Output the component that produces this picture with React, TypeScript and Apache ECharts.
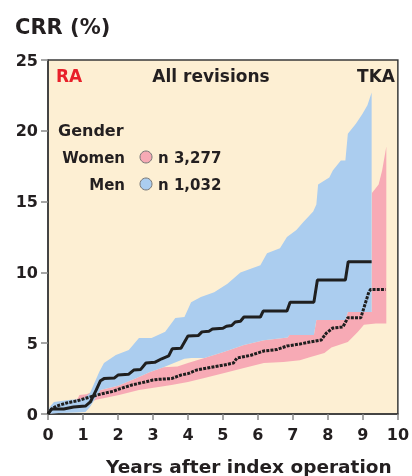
import React, { useEffect, useRef } from "react";
import * as echarts from "echarts";

// Kaplan-Meier style cumulative revision rate (%) vs years
const menLine: [number, number][] = [
  [0, 0], [0.1, 0.35], [0.45, 0.35], [0.73, 0.5], [1.07, 0.56], [1.21, 0.85], [1.38, 1.7], [1.5, 2.35],
  [1.6, 2.5], [1.9, 2.55], [2.0, 2.75], [2.3, 2.8], [2.45, 3.1], [2.65, 3.15], [2.8, 3.6], [3.05, 3.65],
  [3.25, 3.9], [3.45, 4.1], [3.55, 4.6], [3.8, 4.65], [4.0, 5.5], [4.3, 5.55], [4.4, 5.8], [4.6, 5.85],
  [4.7, 6.0], [5.0, 6.05], [5.1, 6.2], [5.25, 6.25], [5.35, 6.5], [5.5, 6.55], [5.6, 6.85], [6.07, 6.85],
  [6.15, 7.27], [6.83, 7.27], [6.92, 7.9], [7.6, 7.9], [7.7, 9.46], [8.5, 9.46], [8.58, 10.75], [9.25, 10.75],
];

const womenLine: [number, number][] = [
  [0, 0], [0.1, 0.35], [0.25, 0.56], [0.53, 0.78], [0.82, 0.92], [1.1, 1.13], [1.3, 1.27], [1.58, 1.45],
  [1.86, 1.6], [2.03, 1.76], [2.14, 1.85], [2.4, 2.05], [2.79, 2.27], [3.0, 2.4], [3.16, 2.45], [3.53, 2.5],
  [3.8, 2.75], [4.0, 2.85], [4.24, 3.1], [4.66, 3.3], [5.04, 3.46], [5.3, 3.6], [5.4, 3.95], [5.8, 4.15],
  [6.17, 4.45], [6.54, 4.55], [6.83, 4.8], [7.2, 4.94], [7.48, 5.08], [7.81, 5.22], [7.95, 5.7], [8.14, 6.07],
  [8.43, 6.15], [8.57, 6.8], [8.94, 6.8], [9.17, 8.6], [9.22, 8.8], [9.65, 8.8],
];

const menUpper: [number, number][] = [
  [0, 0], [0.05, 0.5], [0.17, 0.85], [0.65, 1.0], [1.0, 1.06], [1.2, 1.48], [1.47, 3.0], [1.6, 3.6],
  [1.94, 4.17], [2.31, 4.52], [2.6, 5.37], [2.96, 5.37], [3.35, 5.8], [3.64, 6.78], [3.9, 6.85], [4.09, 7.9],
  [4.37, 8.26], [4.75, 8.6], [5.13, 9.2], [5.5, 10.0], [6.07, 10.5], [6.26, 11.35], [6.63, 11.7], [6.83, 12.5],
  [7.1, 13.0], [7.3, 13.56], [7.58, 14.3], [7.67, 14.8], [7.72, 16.2], [8.04, 16.7], [8.14, 17.2], [8.37, 17.9],
  [8.5, 17.9], [8.57, 19.8], [8.8, 20.5], [8.99, 21.2], [9.13, 21.8], [9.25, 22.7],
];

const menLower: [number, number][] = [
  [0, 0], [0.3, 0.07], [0.82, 0.1], [1.07, 0.15], [1.2, 0.5], [1.35, 1.1], [1.5, 1.7], [2.0, 2.0],
  [2.5, 2.5], [2.9, 2.95], [3.3, 3.3], [3.6, 3.6], [3.9, 3.9], [4.1, 3.95], [4.47, 3.95], [5.04, 4.4],
  [5.6, 4.87], [6.17, 5.2], [6.85, 5.4], [6.9, 5.58], [7.6, 5.58], [7.67, 6.64], [8.5, 6.64], [8.57, 7.2],
  [9.25, 7.2],
];

const womenUpper: [number, number][] = [
  [0, 0], [0.1, 0.6], [0.5, 0.75], [0.85, 1.1], [0.9, 1.35], [1.1, 1.4], [1.2, 1.5], [1.5, 1.7],
  [2.0, 2.0], [2.5, 2.5], [2.9, 2.95], [3.3, 3.3], [3.7, 3.35], [4.0, 3.6], [4.47, 3.95], [5.04, 4.4],
  [5.6, 4.87], [6.17, 5.2], [6.85, 5.4], [6.9, 5.58], [7.6, 5.58], [7.67, 6.64], [8.5, 6.64], [8.57, 7.2],
  [9.25, 7.2], [9.26, 15.6], [9.45, 16.2], [9.55, 17.2], [9.67, 18.9],
];

const womenLower: [number, number][] = [
  [0, 0], [0.5, 0.3], [1.0, 0.6], [1.38, 1.0], [2.03, 1.34], [2.6, 1.7], [3.16, 1.9], [3.53, 2.05],
  [4.0, 2.26], [4.47, 2.54], [5.04, 2.9], [5.6, 3.24], [6.17, 3.6], [6.73, 3.67], [7.2, 3.8], [7.48, 4.0],
  [7.9, 4.3], [8.1, 4.7], [8.57, 5.08], [8.86, 5.8], [9.03, 6.3], [9.37, 6.4], [9.67, 6.4],
];

const FONT = "DejaVu Sans";
const TXT = "#231f20";
const PINK = "#f7aab5";
const BLUE = "#abcdef";

function band(upper: [number, number][], lower: [number, number][], color: string, z: number) {
  return {
    type: "custom",
    coordinateSystem: "cartesian2d",
    z,
    silent: true,
    clip: true,
    data: [[0, 0]],
    renderItem: (_params: any, api: any) => {
      const pts = upper
        .map((p) => api.coord(p))
        .concat(lower.slice().reverse().map((p) => api.coord(p)));
      return { type: "polygon", shape: { points: pts }, style: { fill: color } };
    },
  };
}

export default function App() {
  const ref = useRef<HTMLDivElement>(null);
  useEffect(() => {
    if (!ref.current) return;
    const chart = echarts.init(ref.current, undefined, { renderer: "svg" });
    const bold = { fontFamily: FONT, fontWeight: "bold" as const, color: TXT };
    chart.setOption({
      animation: false,
      grid: {
        left: 48, right: 9, top: 60, bottom: 62, show: true,
        backgroundColor: "#fdefd3", borderColor: "#3a3a3a", borderWidth: 1.5,
      },
      xAxis: {
        type: "value", min: 0, max: 10, interval: 1,
        axisLine: { show: true, lineStyle: { color: "#3a3a3a", width: 1.5 } },
        axisTick: { show: true, length: 6, lineStyle: { color: "#888", width: 1.5 } },
        axisLabel: { ...bold, fontSize: 16, margin: 12 },
        splitLine: { show: false },
      },
      yAxis: {
        type: "value", min: 0, max: 25, interval: 5,
        axisLine: { show: true, lineStyle: { color: "#3a3a3a", width: 1.5 } },
        axisTick: { show: true, length: 7, lineStyle: { color: "#888", width: 1.5 } },
        axisLabel: { ...bold, fontSize: 16, margin: 10 },
        splitLine: { show: false },
      },
      series: [
        band(womenUpper, womenLower, PINK, 1),
        band(menUpper, menLower, BLUE, 2),
        {
          type: "line", data: womenLine, symbol: "none", z: 4, silent: true,
          lineStyle: { color: "#1f1f1f", width: 3, type: [3, 1.2] },
        },
        {
          type: "line", data: menLine, symbol: "none", z: 5, silent: true,
          lineStyle: { color: "#1f1f1f", width: 3 },
        },
      ],
      graphic: [
        { type: "text", left: 15, top: 16, style: { text: "CRR (%)", font: `bold 21px "${FONT}"`, fill: TXT } },
        { type: "text", x: 56, y: 76, style: { text: "RA", font: `bold 17px "${FONT}"`, fill: "#e8202a", textVerticalAlign: "middle" } },
        { type: "text", x: 211, y: 76, style: { text: "All revisions", font: `bold 17px "${FONT}"`, fill: TXT, textAlign: "center", textVerticalAlign: "middle" } },
        { type: "text", x: 395, y: 76, style: { text: "TKA", font: `bold 17px "${FONT}"`, fill: TXT, textAlign: "right", textVerticalAlign: "middle" } },
        { type: "text", x: 58, y: 130, style: { text: "Gender", font: `bold 16px "${FONT}"`, fill: TXT, textVerticalAlign: "middle" } },
        { type: "text", x: 125, y: 158, style: { text: "Women", font: `bold 15px "${FONT}"`, fill: TXT, textAlign: "right", textVerticalAlign: "middle" } },
        { type: "circle", shape: { cx: 146, cy: 157, r: 6 }, style: { fill: PINK, stroke: "#777", lineWidth: 1 } },
        { type: "text", x: 158, y: 158, style: { text: "n 3,277", font: `bold 15px "${FONT}"`, fill: TXT, textVerticalAlign: "middle" } },
        { type: "text", x: 125, y: 185, style: { text: "Men", font: `bold 15px "${FONT}"`, fill: TXT, textAlign: "right", textVerticalAlign: "middle" } },
        { type: "circle", shape: { cx: 146, cy: 184, r: 6 }, style: { fill: BLUE, stroke: "#777", lineWidth: 1 } },
        { type: "text", x: 158, y: 185, style: { text: "n 1,032", font: `bold 15px "${FONT}"`, fill: TXT, textVerticalAlign: "middle" } },
        { type: "text", x: 106, y: 466, style: { text: "Years after index operation", font: `bold 18.5px "${FONT}"`, fill: TXT, textVerticalAlign: "middle" } },
      ],
    });
    return () => chart.dispose();
  }, []);
  return <div ref={ref} style={{ position: "fixed", left: 0, top: 0, width: 412, height: 476 }} />;
}
